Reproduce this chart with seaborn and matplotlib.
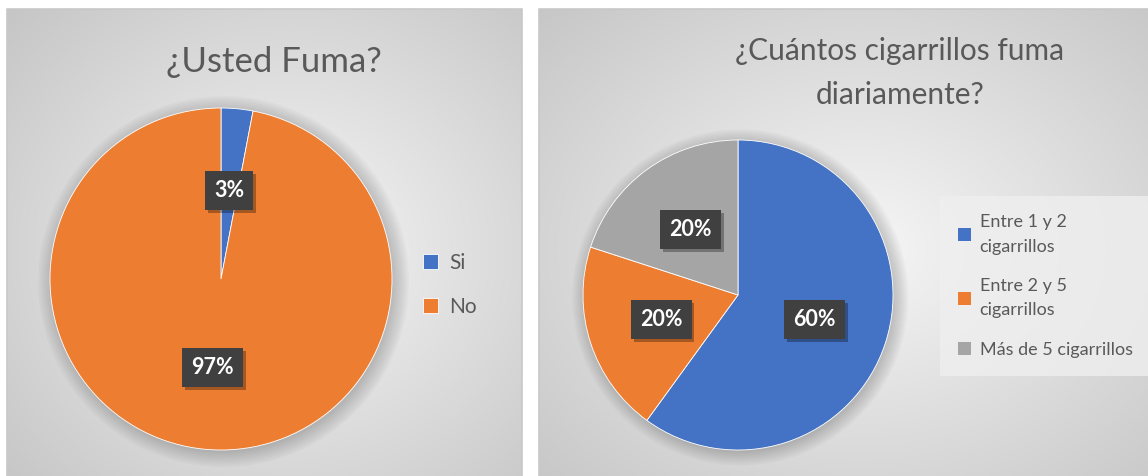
import numpy as np
import matplotlib
matplotlib.use("Agg")
import matplotlib.pyplot as plt
import matplotlib.patheffects as pe
import seaborn as sns

# datos de las dos preguntas
fuma_labels = ["Si", "No"]
fuma_values = [3, 97]

cig_labels = ["Entre 1 y 2\ncigarrillos", "Entre 2 y 5\ncigarrillos", "Más de 5 cigarrillos"]
cig_values = [60, 20, 20]

colores = ["#4472C4", "#ED7D31", "#A5A5A5"]

sns.set_theme(style="white")
plt.rcParams['font.family'] = ['Lato', 'DejaVu Sans']

W, H = 1148, 476
fig = plt.figure(figsize=(W / 100, H / 100), dpi=100)
fig.patch.set_facecolor("white")

# fondo con degradado radial para cada panel
bg = fig.add_axes([0, 0, 1, 1])
bg.axis("off")


def panel(x0, x1, y0, y1, cx, cy):
    xs = np.linspace(x0, x1, 300)
    ys = np.linspace(y0, y1, 200)
    X, Y = np.meshgrid(xs, ys)
    d = np.sqrt(((X - cx) / (x1 - x0)) ** 2 + ((Y - cy) / (y1 - y0)) ** 2)
    d = np.clip(d / 0.75, 0, 1)
    g = 0.965 - 0.19 * d
    img = np.dstack([g, g, g])
    bg.imshow(img, extent=(x0, x1, y1, y0), aspect="auto", zorder=0)
    bg.plot([x0, x1, x1, x0, x0], [y1, y1, y0, y0, y1], color="#c8c8c8", lw=1.2, zorder=1)


panel(7, 522, 9, 478, 290, 250)
panel(539, 1150, 9, 478, 860, 250)
bg.set_xlim(0, W)
bg.set_ylim(H, 0)


def pie_axes(cx, cy, r):
    return fig.add_axes([(cx - r) / W, (H - cy - r) / H, 2 * r / W, 2 * r / H])


def dibujar_pie(ax, values, colors):
    # sombra suave detrás del pastel
    for i in range(8):
        ax.add_patch(plt.Circle((0.015, -0.015), 1.0 + 0.012 * i, color="black",
                                alpha=0.025, lw=0, clip_on=False, zorder=0))
    wedges, _, autotexts = ax.pie(values, colors=colors, startangle=90, counterclock=False,
                                  autopct="%1.0f%%", pctdistance=0.52,
                                  wedgeprops=dict(linewidth=0.6, edgecolor="white"))
    for t in autotexts:
        t.set_color("white")
        t.set_fontsize(15.5)
        t.set_fontweight("bold")
        t.set_zorder(5)
        t.set_bbox(dict(boxstyle="square,pad=0.42", fc="#404040", ec="none"))
        t.get_bbox_patch().set_path_effects(
            [pe.SimplePatchShadow(offset=(2, -2), shadow_rgbFace="black", alpha=0.3), pe.Normal()])
    ax.set_xlim(-1, 1)
    ax.set_ylim(-1, 1)
    ax.set_aspect("equal")
    ax.axis("off")
    return wedges


# --- panel izquierdo ---
ax1 = pie_axes(221, 279, 171)
w1 = dibujar_pie(ax1, fuma_values, colores[:2])
fig.text(274 / W, 1 - 62 / H, "¿Usted Fuma?", ha="center", va="center", fontsize=25, color="#595959")
fig.legend(w1, fuma_labels, loc="center left", bbox_to_anchor=(404 / W, 1 - 285 / H),
           frameon=False, fontsize=15, labelcolor="#595959", handlelength=0.75, handleheight=0.75,
           handletextpad=0.5, labelspacing=1.15)

# --- panel derecho ---
ax2 = pie_axes(738, 295, 155)
w2 = dibujar_pie(ax2, cig_values, colores)
fig.text(900 / W, 1 - 73 / H, "¿Cuántos cigarrillos fuma\ndiariamente?", ha="center", va="center",
         fontsize=21.5, color="#595959", linespacing=1.7)
leg2 = fig.legend(w2, cig_labels, loc="center left", bbox_to_anchor=(940 / W, 1 - 286 / H),
                  frameon=True, fontsize=13, labelcolor="#595959", handlelength=0.7, handleheight=0.7,
                  handletextpad=0.5, labelspacing=1.3, borderpad=1.0, borderaxespad=0,
                  fancybox=False)
leg2.get_frame().set_facecolor("#efefef")
leg2.get_frame().set_edgecolor("none")
leg2.get_frame().set_alpha(0.8)
for t in leg2.get_texts():
    t.set_linespacing(1.65)
for h in leg2.legend_handles:
    h.set_linewidth(0)

fig.savefig("out.png", dpi=100)
